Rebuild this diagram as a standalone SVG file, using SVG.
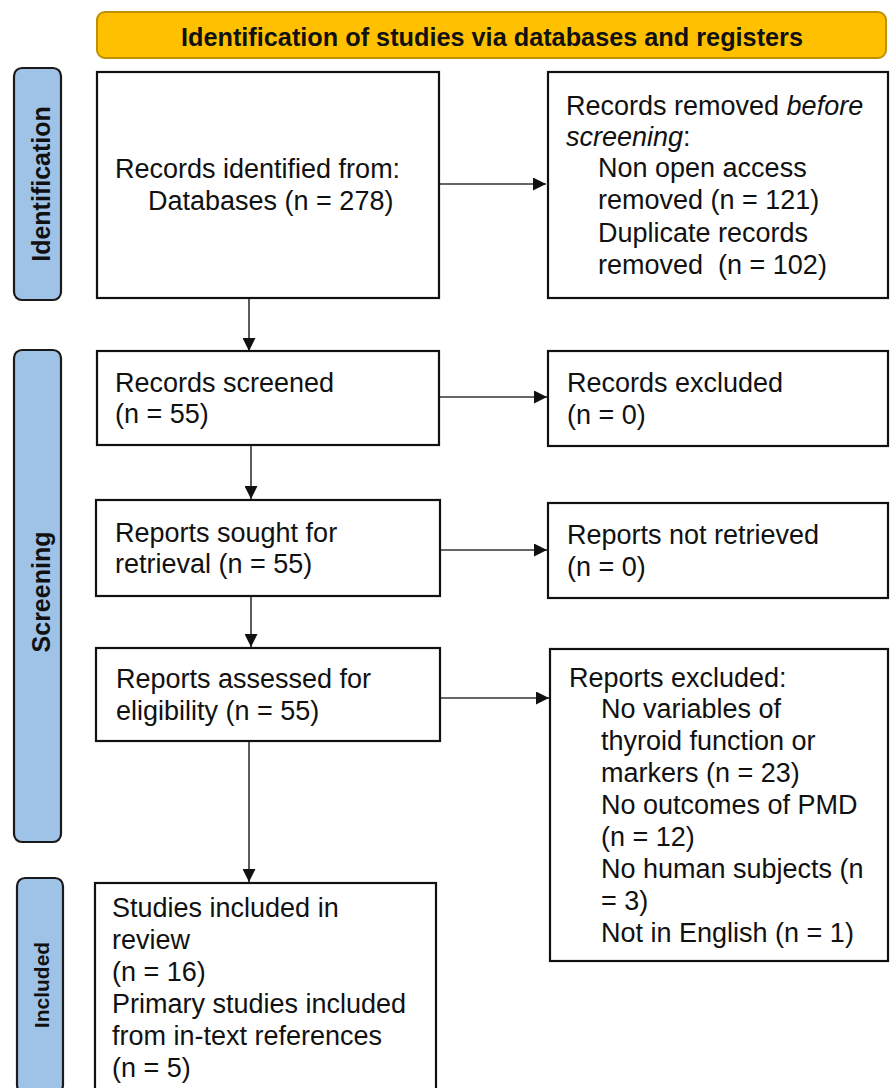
<svg xmlns="http://www.w3.org/2000/svg" width="891" height="1088" viewBox="0 0 891 1088">
<defs>
<style>
.box{fill:#fff;stroke:#111;stroke-width:2.2}
.side{fill:#9fc2e7;stroke:#1a1a1a;stroke-width:2.2}
.hdr{fill:#ffc000;stroke:#bf9000;stroke-width:2}
.t{font-family:"Liberation Sans",Arial,sans-serif;font-size:27px;fill:#111}
.sl{font-family:"Liberation Sans",Arial,sans-serif;font-weight:bold;fill:#111;text-anchor:middle}
.ht{font-family:"Liberation Sans Narrow","Liberation Sans",Arial,sans-serif;font-weight:bold;font-size:25px;fill:#111;text-anchor:middle}
.c{stroke:#333;stroke-width:1.6;fill:none;marker-end:url(#ah)}
</style>
<marker id="ah" viewBox="0 0 13 13" refX="13" refY="6.5" markerWidth="13" markerHeight="13" markerUnits="userSpaceOnUse" orient="auto">
<path d="M0,0 L13,6.5 L0,13 z" fill="#111"/>
</marker>
</defs>
<rect width="891" height="1088" fill="#fff"/>

<g id="header">
<rect class="hdr" x="97" y="12" width="789" height="46" rx="8"/>
<text class="ht" x="492" y="46" textLength="622" lengthAdjust="spacingAndGlyphs">Identification of studies via databases and registers</text>
</g>

<g id="side-identification">
<rect class="side" x="14" y="68" width="47" height="232" rx="8"/>
<text class="sl" font-size="25" transform="translate(50,184) rotate(-90)">Identification</text>
</g>
<g id="side-screening">
<rect class="side" x="14" y="350" width="47" height="492" rx="8"/>
<text class="sl" font-size="25" transform="translate(50,592) rotate(-90)">Screening</text>
</g>
<g id="side-included">
<rect class="side" x="17" y="878" width="46" height="215" rx="8"/>
<text class="sl" font-size="21" transform="translate(49,985) rotate(-90)">Included</text>
</g>

<g id="connectors">
<line class="c" x1="439" y1="184" x2="546" y2="184"/>
<line class="c" x1="249" y1="298" x2="249" y2="351"/>
<line class="c" x1="439" y1="397" x2="547" y2="397"/>
<line class="c" x1="251" y1="446" x2="251" y2="499"/>
<line class="c" x1="439" y1="550" x2="547" y2="550"/>
<line class="c" x1="251" y1="597" x2="251" y2="647"/>
<line class="c" x1="439" y1="698" x2="549" y2="698"/>
<line class="c" x1="249" y1="742" x2="249" y2="882"/>
</g>

<g id="n-identified">
<rect class="box" x="97" y="72" width="342" height="226"/>
<text class="t" x="115" y="178">Records identified from:</text>
<text class="t" x="148" y="210">Databases (n = 278)</text>
</g>

<g id="n-removed">
<rect class="box" x="548" y="72" width="340" height="226"/>
<text class="t" x="566" y="115">Records removed <tspan font-style="italic">before</tspan></text>
<text class="t" x="566" y="146"><tspan font-style="italic">screening</tspan>:</text>
<text class="t" x="598" y="177">Non open access</text>
<text class="t" x="598" y="209">removed (n = 121)</text>
<text class="t" x="598" y="242">Duplicate records</text>
<text class="t" x="598" y="274" xml:space="preserve">removed  (n = 102)</text>
</g>

<g id="n-screened">
<rect class="box" x="97" y="351" width="342" height="94"/>
<text class="t" x="115" y="392">Records screened</text>
<text class="t" x="115" y="423">(n = 55)</text>
</g>

<g id="n-excluded">
<rect class="box" x="548" y="351" width="340" height="95"/>
<text class="t" x="567" y="392">Records excluded</text>
<text class="t" x="567" y="424">(n = 0)</text>
</g>

<g id="n-sought">
<rect class="box" x="96" y="500" width="344" height="96"/>
<text class="t" x="115" y="542">Reports sought for</text>
<text class="t" x="115" y="573">retrieval (n = 55)</text>
</g>

<g id="n-notretrieved">
<rect class="box" x="548" y="503" width="340" height="95"/>
<text class="t" x="567" y="544">Reports not retrieved</text>
<text class="t" x="567" y="576">(n = 0)</text>
</g>

<g id="n-assessed">
<rect class="box" x="96" y="648" width="344" height="93"/>
<text class="t" x="116" y="688">Reports assessed for</text>
<text class="t" x="116" y="720">eligibility (n = 55)</text>
</g>

<g id="n-reportsexcluded">
<rect class="box" x="550" y="649" width="338" height="312"/>
<text class="t" x="569" y="687">Reports excluded:</text>
<text class="t" x="601" y="718">No variables of</text>
<text class="t" x="601" y="750">thyroid function or</text>
<text class="t" x="601" y="782">markers (n = 23)</text>
<text class="t" x="601" y="814">No outcomes of PMD</text>
<text class="t" x="601" y="846">(n = 12)</text>
<text class="t" x="601" y="878">No human subjects (n</text>
<text class="t" x="601" y="910">= 3)</text>
<text class="t" x="601" y="942">Not in English (n = 1)</text>
</g>

<g id="n-included">
<rect class="box" x="95" y="883" width="341" height="215"/>
<text class="t" x="112" y="917">Studies included in</text>
<text class="t" x="112" y="949">review</text>
<text class="t" x="112" y="981">(n = 16)</text>
<text class="t" x="112" y="1013">Primary studies included</text>
<text class="t" x="112" y="1045">from in-text references</text>
<text class="t" x="112" y="1077">(n = 5)</text>
</g>
</svg>
